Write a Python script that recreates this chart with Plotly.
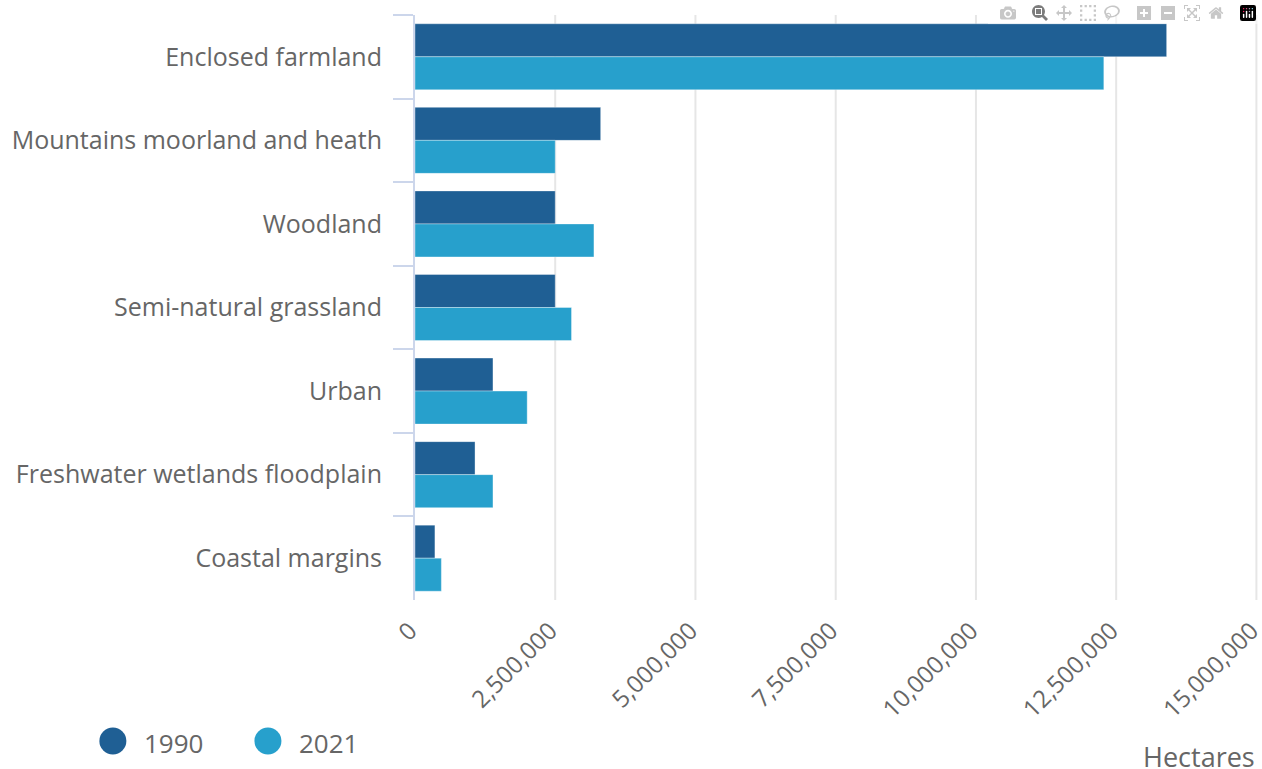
import plotly.graph_objects as go

categories = [
    "Enclosed farmland",
    "Mountains moorland and heath",
    "Woodland",
    "Semi-natural grassland",
    "Urban",
    "Freshwater wetlands floodplain",
    "Coastal margins",
]
series_names = ["1990", "2021"]
values_1990 = [13400000, 3310000, 2500000, 2500000, 1390000, 1070000, 355000]
values_2021 = [12280000, 2500000, 3190000, 2790000, 2000000, 1390000, 470000]
x_ticks = [0, 2500000, 5000000, 7500000, 10000000, 12500000, 15000000]
x_title = "Hectares"

colors = ["#1f5f94", "#27a0cc"]
FONT = "Open Sans, Liberation Sans, sans-serif"
GREY = "#666666"

# figure fills the whole page (body margin removed in the page script below)
W, H = 1262, 769
X_MAX = 15100000
PX_PER_UNIT = (1256 - 415) / 15000000
PL, PT, PB = 415, 15, 600
PR = PL + X_MAX * PX_PER_UNIT


def px_x(x):
    return (x - PL) / (PR - PL)


def px_y(y):
    return (PB - y) / (PB - PT)


fig = go.Figure()

# vertical gridlines at the tick values (drawn below the bars)
for t in x_ticks[1:]:
    fig.add_shape(type="line", xref="x", yref="paper", x0=t, x1=t, y0=0, y1=1,
                  layer="below", line=dict(color="#e6e6e6", width=2))

for name, vals, col in zip(series_names, [values_1990, values_2021], colors):
    fig.add_trace(go.Bar(
        y=categories, x=vals, name=name, orientation="h",
        marker=dict(color=col, line=dict(color="rgba(255,255,255,0.35)", width=1)),
        showlegend=False,
    ))

# custom legend with large circles
legend_x = [113, 268]
for name, col, lx in zip(series_names, colors, legend_x):
    fig.add_shape(type="circle", xref="paper", yref="paper",
                  xsizemode="pixel", ysizemode="pixel",
                  xanchor=px_x(lx), yanchor=px_y(741),
                  x0=-13.5, x1=13.5, y0=-13.5, y1=13.5,
                  fillcolor=col, line=dict(width=0))
    fig.add_annotation(text=name, xref="paper", yref="paper",
                       x=px_x(lx + 29), y=px_y(743),
                       xanchor="left", yanchor="middle", showarrow=False,
                       font=dict(family=FONT, size=26, color=GREY))

fig.add_annotation(text=x_title, xref="paper", yref="paper", x=px_x(1257), y=px_y(756),
                   xanchor="right", yanchor="middle", showarrow=False,
                   font=dict(family=FONT, size=27, color=GREY))

fig.update_layout(
    width=W, height=H,
    margin=dict(l=PL, r=max(W - PR, 0), t=PT, b=H - PB, autoexpand=False),
    paper_bgcolor="white", plot_bgcolor="white",
    barmode="group", bargap=0.21, bargroupgap=0,
    font=dict(family=FONT, color=GREY),
    xaxis=dict(range=[0, X_MAX], tickvals=x_ticks, tickformat=",d",
               tickangle=-45, showgrid=False,
               zeroline=False, showline=False, ticks="", automargin=False,
               ticklabeloverflow="allow", ticklabelstandoff=11, ticklabelshift=-5,
               tickfont=dict(family=FONT, size=24, color=GREY)),
    yaxis=dict(categoryorder="array", categoryarray=categories, autorange="reversed",
               showline=True, linecolor="#ccd6eb", linewidth=2,
               ticks="outside", tickson="boundaries", ticklen=20, tickwidth=2,
               tickcolor="#ccd6eb", showgrid=False, automargin=False,
               ticklabelstandoff=26,
               tickfont=dict(family=FONT, size=25, color=GREY)),
)

PAGE_SCRIPT = ("document.body.style.margin='0';"
               "document.documentElement.style.overflow='hidden';")

fig.write_html("out.html", post_script=PAGE_SCRIPT)
